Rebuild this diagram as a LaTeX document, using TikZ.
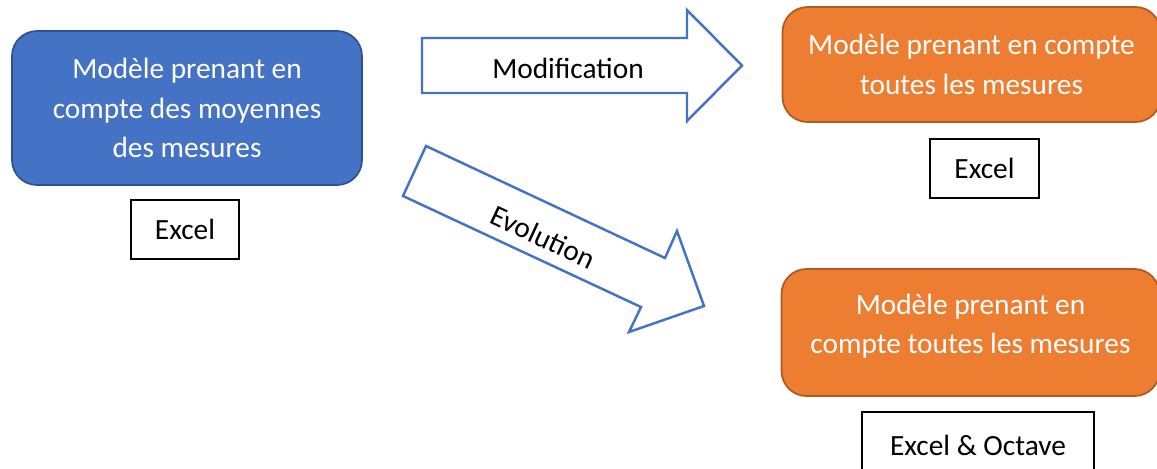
\documentclass[tikz,border=0pt]{standalone}
\usepackage{fontspec}
\setmainfont{Carlito}
\usetikzlibrary{positioning}
\definecolor{bluefill}{HTML}{4472C4}
\definecolor{blueline}{HTML}{2F528F}
\definecolor{orangefill}{HTML}{ED7D31}
\definecolor{orangeline}{HTML}{AE5A21}

\begin{document}
\begin{tikzpicture}[
        x=0.02cm, y=-0.02cm,
        every node/.style={font=\fontsize{16.7}{22.4}\selectfont},
        model/.style={rounded corners=0.5cm, line width=1pt, text=white,
            align=center, inner sep=0pt},
        oldmodel/.style={model, fill=bluefill, draw=blueline,
            minimum width=7cm, minimum height=3.08cm},
        newmodel/.style={model, fill=orangefill, draw=orangeline,
            minimum width=7.56cm},
        tool/.style={draw=black, line width=1pt, minimum height=1.18cm,
            inner sep=0pt},
        bigarrow/.style={draw=bluefill, line width=1.4pt, fill=white,
            line join=miter},
    ]
    \useasboundingbox (0,0) rectangle (1157,468);
    % models
    \node[oldmodel] (moy) at (187,108)
        {Mod\`ele prenant en\\compte des moyennes\\des mesures};
    \node[newmodel, minimum height=2.3cm] (toutes1) at (971.5,64.5)
        {Mod\`ele prenant en compte\\toutes les mesures};
    \node[newmodel, minimum height=2.54cm, text depth=10pt] (toutes2) at (970.5,332.5)
        {Mod\`ele prenant en\\compte toutes les mesures};
    % tools
    \node[tool, minimum width=2.16cm] (excel1) at (185,229.5) {Excel};
    \node[tool, minimum width=2.18cm] (excel2) at (984.5,168.5) {Excel};
    \node[tool, minimum width=4.64cm, minimum height=1.32cm] (octave) at (978,445)
        {Excel \& Octave};
    % block arrows
    \draw[bigarrow] (422,38) coordinate (mod_1) -- (687,38) -- (687,10)
        -- (742,65.5) coordinate (mod_2) -- (687,121) -- (687,93) -- (422,93) -- cycle;
    \node (modif) at (568,68) {Modification};
    \draw[bigarrow] (426,146) coordinate (evo_1) -- (665,258) -- (677,231)
        -- (704,306) coordinate (evo_2) -- (629,332) -- (641,307) -- (403,196) -- cycle;
    \node[rotate=-25] (evol) at (543,237) {Evolution};
\end{tikzpicture}
\end{document}
